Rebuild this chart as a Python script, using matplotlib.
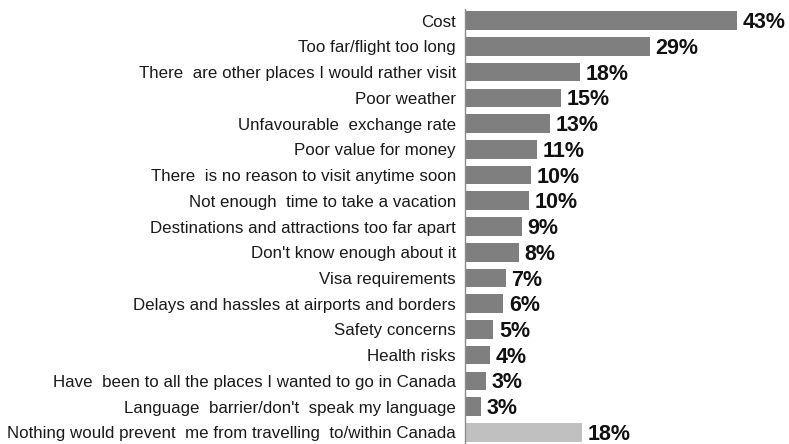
import matplotlib.pyplot as plt
import numpy as np

plt.rcParams['font.family'] = ['Liberation Sans', 'DejaVu Sans']

categories = [
    "Cost",
    "Too far/flight too long",
    "There  are other places I would rather visit",
    "Poor weather",
    "Unfavourable  exchange rate",
    "Poor value for money",
    "There  is no reason to visit anytime soon",
    "Not enough  time to take a vacation",
    "Destinations and attractions too far apart",
    "Don't know enough about it",
    "Visa requirements",
    "Delays and hassles at airports and borders",
    "Safety concerns",
    "Health risks",
    "Have  been to all the places I wanted to go in Canada",
    "Language  barrier/don't  speak my language",
    "Nothing would prevent  me from travelling  to/within Canada",
]
# bar lengths as measured, labels as printed
values = [43.0, 29.2, 18.1, 15.1, 13.4, 11.4, 10.4, 10.1, 8.9, 8.5,
          6.4, 6.0, 4.4, 3.9, 3.3, 2.5, 18.4]
labels = ["43%", "29%", "18%", "15%", "13%", "11%", "10%", "10%", "9%", "8%",
          "7%", "6%", "5%", "4%", "3%", "3%", "18%"]

colors = ['#7f7f7f'] * (len(values) - 1) + ['#c0c0c0']

fig = plt.figure(figsize=(7.89, 4.44), dpi=100)
ax = fig.add_axes([465.5 / 789, 0, 1 - 465.5 / 789, 435 / 444])

y = np.arange(len(values))
ax.barh(y, values, height=0.72, color=colors, left=0)

for yi, v, lab in zip(y, values, labels):
    ax.text(v + 0.9, yi + 0.08, lab, va='center', ha='left',
            fontsize=15.5, fontweight='bold', color='#111111')

ax.set_xlim(0, 51.3)
ax.set_ylim(len(values) - 0.55, -0.45)
ax.set_yticks(y)
ax.set_yticklabels(categories, fontsize=12.2, color='#1a1a1a')
ax.tick_params(axis='y', length=0, pad=7)
ax.set_xticks([])
for s in ['top', 'right', 'bottom']:
    ax.spines[s].set_visible(False)
ax.spines['left'].set_color('#8c8c8c')
ax.spines['left'].set_linewidth(1)

fig.savefig('out.png', dpi=100)
